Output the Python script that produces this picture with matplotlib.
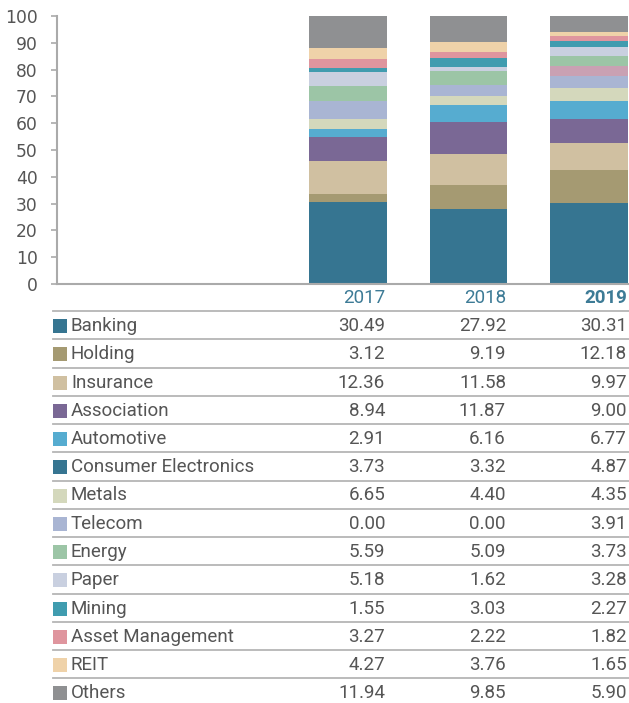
import matplotlib
matplotlib.use('Agg')
import matplotlib.pyplot as plt
from matplotlib.patches import Rectangle

years = ['2017', '2018', '2019']
sectors = ['Banking', 'Holding', 'Insurance', 'Association', 'Automotive',
           'Consumer Electronics', 'Metals', 'Telecom', 'Energy', 'Paper',
           'Mining', 'Asset Management', 'REIT', 'Others']
v2017 = [30.49, 3.12, 12.36, 8.94, 2.91, 3.73, 6.65, 0.00, 5.59, 5.18, 1.55, 3.27, 4.27, 11.94]
v2018 = [27.92, 9.19, 11.58, 11.87, 6.16, 3.32, 4.40, 0.00, 5.09, 1.62, 3.03, 2.22, 3.76, 9.85]
v2019 = [30.31, 12.18, 9.97, 9.00, 6.77, 4.87, 4.35, 3.91, 3.73, 3.28, 2.27, 1.82, 1.65, 5.90]
values = [v2017, v2018, v2019]
yticks = list(range(0, 101, 10))

# colours used in the bars (as drawn in the original)
bar_colors = ['#367591', '#a59a72', '#d0c0a1', '#7a6895', '#56acd0',
              '#d4d8bc', '#a9b5d3', '#c9a1b3', '#9cc5a6', '#c9d0e0',
              '#409caf', '#df959e', '#efd2a9', '#8f9092']
# colours of the swatches in the table
swatch_colors = ['#367591', '#a59a72', '#d0c0a1', '#7a6895', '#56acd0',
                 '#367591', '#d4d8bc', '#a9b5d3', '#9cc5a6', '#c9d0e0',
                 '#409caf', '#df959e', '#efd2a9', '#8f9092']

W, H = 629, 703
fig = plt.figure(figsize=(W / 100, H / 100), dpi=100)

# bar chart
ax = fig.add_axes([57 / W, (H - 284) / H, (W - 57) / W, (284 - 16) / H])
x = list(range(len(years)))
bottom = [0, 0, 0]
for i, s in enumerate(sectors):
    seg = [values[j][i] for j in range(len(years))]
    ax.bar(x, seg, bottom=bottom, width=0.64, color=bar_colors[i], linewidth=0)
    bottom = [b + v for b, v in zip(bottom, seg)]

ax.set_xlim(-2.415, 2.332)
ax.set_ylim(0, 100)
ax.set_yticks(yticks)
ax.set_yticklabels([str(t) for t in yticks], fontsize=12.3, color='#555555',
                   family='DejaVu Sans')
ax.set_xticks([])
ax.tick_params(axis='y', length=4, width=1.2, color='#aaaaaa', pad=10)
for sp in ['top', 'right']:
    ax.spines[sp].set_visible(False)
for sp in ['left', 'bottom']:
    ax.spines[sp].set_color('#aaaaaa')
    ax.spines[sp].set_linewidth(1.5)

# table underneath, laid out in pixel coords
ov = fig.add_axes([0, 0, 1, 1])
ov.set_xlim(0, W)
ov.set_ylim(H, 0)
ov.axis('off')
ov.patch.set_visible(False)

col_right = [385, 506, 627]
font = 'Roboto'
fs = 13.5
for j, yr in enumerate(years):
    ov.text(col_right[j], 298, yr, ha='right', va='center', fontsize=fs,
            family=font, color='#3d7b96',
            fontweight='bold' if j == len(years) - 1 else 'normal')

row_h = 28.25
for i, s in enumerate(sectors):
    line_y = 311 + i * row_h
    ov.plot([53, W], [line_y, line_y], color='#b5b5b5', lw=1.3)
    cy = line_y + 15
    ov.add_patch(Rectangle((53, cy - 7), 14, 14, color=swatch_colors[i], lw=0))
    ov.text(71, cy, s, ha='left', va='center', fontsize=fs, family=font,
            color='#555555')
    for j in range(len(years)):
        ov.text(col_right[j], cy, f'{values[j][i]:.2f}', ha='right', va='center',
                fontsize=fs, family=font, color='#555555')

fig.savefig('out.png', dpi=100)
